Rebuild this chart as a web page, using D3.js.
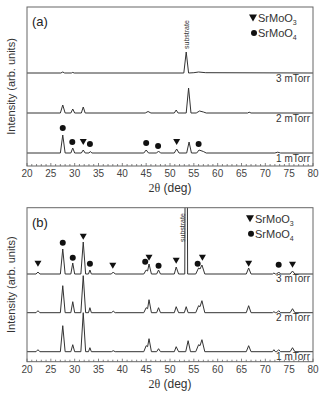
<!DOCTYPE html>
<html>
<head>
<meta charset="utf-8">
<script src="https://cdn.jsdelivr.net/npm/d3@7"></script>
<style>
  body { margin: 0; background: #fff; }
  svg { display: block; font-family: "Liberation Sans", Arial, sans-serif; }
</style>
</head>
<body>
<div id="chart"></div>
<script>
// x axis
var xTicks = [20, 25, 30, 35, 40, 45, 50, 55, 60, 65, 70, 75, 80];

// panel (a) traces: [2theta, intensity above own baseline]
var a3mTorr = [[20,0],[27.1,0],[27.5,1],[27.9,0],[29.3,0],[29.6,0.6],[29.9,0],[52.9,0],[53.4,21],[53.9,0],[55,0.3],[56,1],[57.5,0.3],[80,0]];
var a2mTorr = [[20,0],[27.0,0],[27.5,8],[28.0,0],[29.2,0],[29.6,4],[30.0,0],[31.4,0],[31.8,6],[32.2,0],[44.8,0],[45.4,1.5],[46,0],[50.9,0],[51.3,3],[51.7,0],[53.4,0],[53.9,25],[54.4,0],[55.5,0],[56.2,2],[57,1],[57.6,0],[66.3,0],[66.6,0.8],[67,0],[80,0]];
var a1mTorr = [[20,0],[27.0,0],[27.5,18],[28.0,0],[29.2,0],[29.6,5],[30.0,0],[31.4,0],[31.8,3],[32.2,0],[33,0],[33.3,1.5],[33.6,0],[44.5,0],[45,3],[45.5,0],[47.2,0],[47.6,2],[48,0],[50.9,0],[51.4,4],[51.9,0],[53.5,0],[54,11],[54.5,0],[55.6,0],[56.1,3],[57,1.5],[57.6,0],[72,0],[72.6,0.8],[73.2,0],[80,0]];

// panel (b) traces
var b3mTorr = [[20,0],[21.9,0],[22.3,2],[22.7,0],[27.0,0],[27.5,25],[28.0,0],[29.2,0],[29.6,11],[30.0,0],[31.3,0],[31.8,32],[32.3,0],[32.9,0],[33.2,4],[33.5,0],[37.7,0],[38.1,2],[38.5,0],[44.5,0],[45,4],[45.3,3],[45.6,10],[46.1,0],[47.2,0],[47.6,4],[48.0,0],[50.9,0],[51.3,7],[51.8,0],[53.1,0],[53.4,400],[53.7,0],[55.4,0],[56,6],[56.3,5],[56.7,9],[57.3,0],[66.0,0],[66.5,6],[67.0,0],[71.5,0],[71.8,1],[72.1,0],[72.4,0],[72.8,2],[73.2,0],[75.2,0],[75.7,3],[76.2,0],[80,0]];
var b2mTorr = [[20,0],[21.9,0],[22.3,2],[22.7,0],[27.0,0],[27.5,27],[28.0,0],[29.2,0],[29.6,11],[30.0,0],[31.3,0],[31.8,37],[32.3,0],[32.9,0],[33.2,5],[33.5,0],[37.7,0],[38.1,1.5],[38.5,0],[44.5,0],[45,5],[45.3,4],[45.6,13],[46.1,0],[47.2,0],[47.6,5],[48.0,0],[50.9,0],[51.3,6],[51.8,0],[53.0,0],[53.4,6],[53.8,0],[55.4,0],[56,7],[56.3,6],[56.7,12],[57.3,0],[66.0,0],[66.5,7],[67.0,0],[71.5,0],[71.8,1],[72.1,0],[72.4,0],[72.8,2],[73.2,0],[75.2,0],[75.7,4],[76.2,0],[80,0]];
var b1mTorr = [[20,0],[21.9,0],[22.3,2],[22.7,0],[27.0,0],[27.5,26],[28.0,0],[29.2,0],[29.6,7],[30.0,0],[31.3,0],[31.8,39],[32.3,0],[32.9,0],[33.2,4],[33.5,0],[37.7,0],[38.1,1],[38.5,0],[44.5,0],[45,6],[45.3,5],[45.6,13],[46.1,0],[47.2,0],[47.6,3],[48.0,0],[50.9,0],[51.3,5],[51.8,0],[53.3,0],[53.8,11],[54.3,0],[55.4,0],[56,7],[56.3,6],[56.7,12],[57.3,0],[66.0,0],[66.5,6],[67.0,0],[71.5,0],[71.8,2],[72.1,0],[72.4,0],[72.8,2],[73.2,0],[75.2,0],[75.7,4],[76.2,0],[80,0]];

var seriesLabels = ["1 mTorr", "2 mTorr", "3 mTorr"];
var offsetsA = [13, 53, 93];
var offsetsB = [10, 49, 87.7];

// phase markers: [2theta, level, phase]  (T = SrMoO3, C = SrMoO4)
var markersA = [[27.5,38,"C"],[29.5,24,"C"],[31.8,24,"T"],[33.2,22,"C"],[45,23,"C"],[47.5,20,"C"],[51.4,24,"T"],[56,22,"C"]];
var markersB = [[22.3,98,"T"],[27.5,119,"C"],[29.6,104,"C"],[31.8,125,"T"],[33.2,98,"C"],[38,96,"T"],[44.8,100,"C"],[45.6,104,"T"],[47.6,96,"C"],[51.3,101,"T"],[55.8,98,"C"],[56.8,104,"T"],[66.5,98,"T"],[72.8,97,"C"],[75.7,97,"T"]];

var W = 320, H = 395;
var svg = d3.select('#chart').append('svg').attr('width', W).attr('height', H);

function panel(opt) {
    var x = d3.scaleLinear().domain([20, 80]).range([27, 313]);
    var y = d3.scaleLinear().domain([0, opt.ymax]).range([opt.bottom, opt.top]);
    var g = svg.append('g');
    var clipId = 'clip-' + opt.key;
    g.append('clipPath').attr('id', clipId).append('rect')
        .attr('x', 27).attr('y', opt.top).attr('width', 286).attr('height', opt.bottom - opt.top);

    // traces
    var line = d3.line().x(function(d) { return x(d[0]); });
    opt.traces.forEach(function(tr, i) {
        line.y(function(d) { return y(d[1] + opt.offsets[i]); });
        g.append('path').datum(tr)
            .attr('clip-path', 'url(#' + clipId + ')')
            .attr('d', line)
            .attr('fill', 'none')
            .attr('stroke', '#333')
            .attr('stroke-width', 1);
        g.append('text')
            .attr('x', 310).attr('y', y(opt.offsets[i]) + opt.labelDy)
            .attr('text-anchor', 'end')
            .attr('font-size', 10).attr('fill', '#333')
            .text(seriesLabels[i]);
    });

    // markers
    opt.markers.forEach(function(m) {
        if (m[2] === 'C') {
            g.append('circle').attr('cx', x(m[0])).attr('cy', y(m[1])).attr('r', 3).attr('fill', '#111');
        } else {
            var cx = x(m[0]), cy = y(m[1]);
            g.append('path').attr('d', 'M' + (cx - 3.5) + ',' + (cy - 3) + 'L' + (cx + 3.5) + ',' + (cy - 3) + 'L' + cx + ',' + (cy + 3) + 'Z')
                .attr('fill', '#111');
        }
    });

    // frame
    g.append('rect').attr('x', 27).attr('y', opt.top).attr('width', 286).attr('height', opt.bottom - opt.top)
        .attr('fill', 'none').attr('stroke', '#666').attr('stroke-width', 1);

    // bottom axis, inward ticks
    var minor = d3.range(20, 81, 1);
    g.selectAll('.minor').data(minor).enter().append('line')
        .attr('x1', function(d) { return x(d); }).attr('x2', function(d) { return x(d); })
        .attr('y1', opt.bottom).attr('y2', function(d) { return opt.bottom - (d % 5 === 0 ? 3 : 2); })
        .attr('stroke', '#666').attr('stroke-width', 0.8);
    g.selectAll('.tick').data(xTicks).enter().append('text')
        .attr('x', function(d) { return x(d); }).attr('y', opt.bottom + 11)
        .attr('text-anchor', 'middle').attr('font-size', 10).attr('fill', '#444')
        .text(function(d) { return d; });

    var title = g.append('text').attr('x', 170).attr('y', opt.bottom + 26)
        .attr('text-anchor', 'middle').attr('font-size', 12).attr('fill', '#333');
    title.append('tspan').attr('font-family', '"Liberation Serif", "Times New Roman", serif').text('2θ');
    title.append('tspan').text(' (deg)');

    g.append('text')
        .attr('transform', 'translate(15,' + ((opt.top + opt.bottom) / 2) + ') rotate(-90)')
        .attr('text-anchor', 'middle').attr('font-size', 11).attr('fill', '#333')
        .text('Intensity (arb. units)');

    g.append('text').attr('x', 32).attr('y', opt.top + 19)
        .attr('font-size', 13).attr('fill', '#222').text(opt.name);

    // substrate label
    g.append('text')
        .attr('transform', 'translate(' + opt.subX + ',' + opt.subY + ') rotate(-90)')
        .attr('font-size', 7).attr('fill', '#333').text('substrate');

    // legend
    var lx = opt.legX, ly = opt.top + 11;
    g.append('path').attr('d', 'M' + (lx - 4) + ',' + (ly - 3.5) + 'L' + (lx + 4) + ',' + (ly - 3.5) + 'L' + lx + ',' + (ly + 3.5) + 'Z').attr('fill', '#111');
    var t1 = g.append('text').attr('x', lx + 5).attr('y', ly + 4).attr('font-size', 11).attr('fill', '#333');
    t1.append('tspan').text('SrMoO');
    t1.append('tspan').attr('font-size', 7).attr('dy', 3).text('3');
    g.append('circle').attr('cx', lx + 1).attr('cy', ly + 15).attr('r', 3).attr('fill', '#111');
    var t2 = g.append('text').attr('x', lx + 5).attr('y', ly + 19).attr('font-size', 11).attr('fill', '#333');
    t2.append('tspan').text('SrMoO');
    t2.append('tspan').attr('font-size', 7).attr('dy', 3).text('4');
}

panel({ key: 'a', name: '(a)', top: 7, bottom: 166, ymax: 159, traces: [a1mTorr, a2mTorr, a3mTorr], offsets: offsetsA,
        markers: markersA, labelDy: 9, subX: 189, subY: 49, legX: 253 });
panel({ key: 'b', name: '(b)', top: 207.7, bottom: 361.7, ymax: 154, traces: [b1mTorr, b2mTorr, b3mTorr], offsets: offsetsB,
        markers: markersB, labelDy: 8, subX: 185, subY: 242, legX: 250 });
</script>
</body>
</html>
